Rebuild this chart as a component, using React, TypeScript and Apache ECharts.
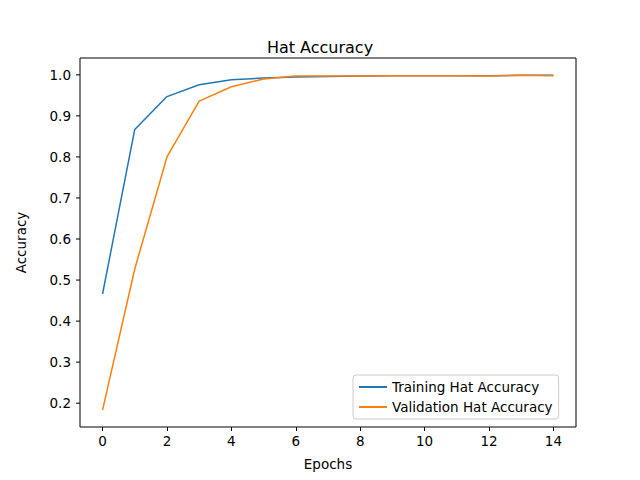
import React, { useEffect, useRef } from "react";
import * as echarts from "echarts";

const epochs = [0, 1, 2, 3, 4, 5, 6, 7, 8, 9, 10, 11, 12, 13, 14];
const training = [0.466, 0.867, 0.947, 0.976, 0.988, 0.992, 0.995, 0.996, 0.997, 0.998, 0.998, 0.998, 0.998, 0.999, 0.999];
const validation = [0.183, 0.527, 0.800, 0.936, 0.971, 0.990, 0.997, 0.997, 0.997, 0.998, 0.998, 0.998, 0.997, 0.999, 0.998];
const xTicks = [0, 2, 4, 6, 8, 10, 12, 14];
const yTicks = [0.2, 0.3, 0.4, 0.5, 0.6, 0.7, 0.8, 0.9, 1.0];

export default function App() {
  const ref = useRef<HTMLDivElement>(null);
  useEffect(() => {
    document.body.style.margin = "0";
    const chart = echarts.init(ref.current!, null, { renderer: "svg" });
    const font = "DejaVu Sans";
    const fs = 13.5;
    chart.setOption({
      animation: false,
      textStyle: { fontFamily: font },
      title: { text: "Hat Accuracy", left: "center", top: 34, textStyle: { fontFamily: font, fontSize: 16, fontWeight: "normal", color: "#000" } },
      grid: { left: 80, right: 64, top: 58, bottom: 53, show: true, borderColor: "#000", borderWidth: 1, backgroundColor: "transparent" },
      legend: {
        orient: "vertical", left: 353, top: 375, itemWidth: 28, itemHeight: 2, itemGap: 6,
        backgroundColor: "#fff", borderColor: "#ccc", borderWidth: 1, borderRadius: 3, padding: [5, 6, 5, 6],
        textStyle: { fontFamily: font, fontSize: fs, color: "#000" },
        icon: "rect",
        data: ["Training Hat Accuracy", "Validation Hat Accuracy"],
      },
      xAxis: {
        type: "value", min: -0.7, max: 14.7, name: "Epochs", nameLocation: "middle", nameGap: 30,
        nameTextStyle: { fontFamily: font, fontSize: fs, color: "#000" },
        axisLine: { show: false }, splitLine: { show: false },
        axisTick: { show: true, customValues: xTicks, length: 4, lineStyle: { color: "#000" } },
        axisLabel: { customValues: xTicks, fontFamily: font, fontSize: fs, color: "#000", margin: 7 },
      },
      yAxis: {
        type: "value", min: 0.142, max: 1.041, name: "Accuracy", nameLocation: "middle", nameGap: 52,
        nameTextStyle: { fontFamily: font, fontSize: fs, color: "#000" },
        axisLine: { show: false }, splitLine: { show: false },
        axisTick: { show: false },
        axisLabel: { customValues: yTicks, fontFamily: font, fontSize: fs, color: "#000", margin: 9, formatter: (v: number) => v.toFixed(1) },
      },
      series: [
        { name: "Training Hat Accuracy", type: "line", showSymbol: false, symbol: "none", data: epochs.map((e, i) => [e, training[i]]), lineStyle: { color: "#1f77b4", width: 1.5 }, itemStyle: { color: "#1f77b4" } },
        { name: "Validation Hat Accuracy", type: "line", showSymbol: false, symbol: "none", data: epochs.map((e, i) => [e, validation[i]]), lineStyle: { color: "#ff7f0e", width: 1.5 }, itemStyle: { color: "#ff7f0e" } },
      ],
    });
    const ticks = yTicks.map((v) => {
      const p = chart.convertToPixel({ gridIndex: 0 }, [-0.7, v]) as number[];
      return { type: "line", shape: { x1: p[0] - 4, y1: p[1], x2: p[0], y2: p[1] }, style: { stroke: "#000", lineWidth: 1 }, silent: true };
    });
    chart.setOption({ graphic: ticks });
    return () => chart.dispose();
  }, []);
  return <div ref={ref} style={{ width: 640, height: 480 }} />;
}
